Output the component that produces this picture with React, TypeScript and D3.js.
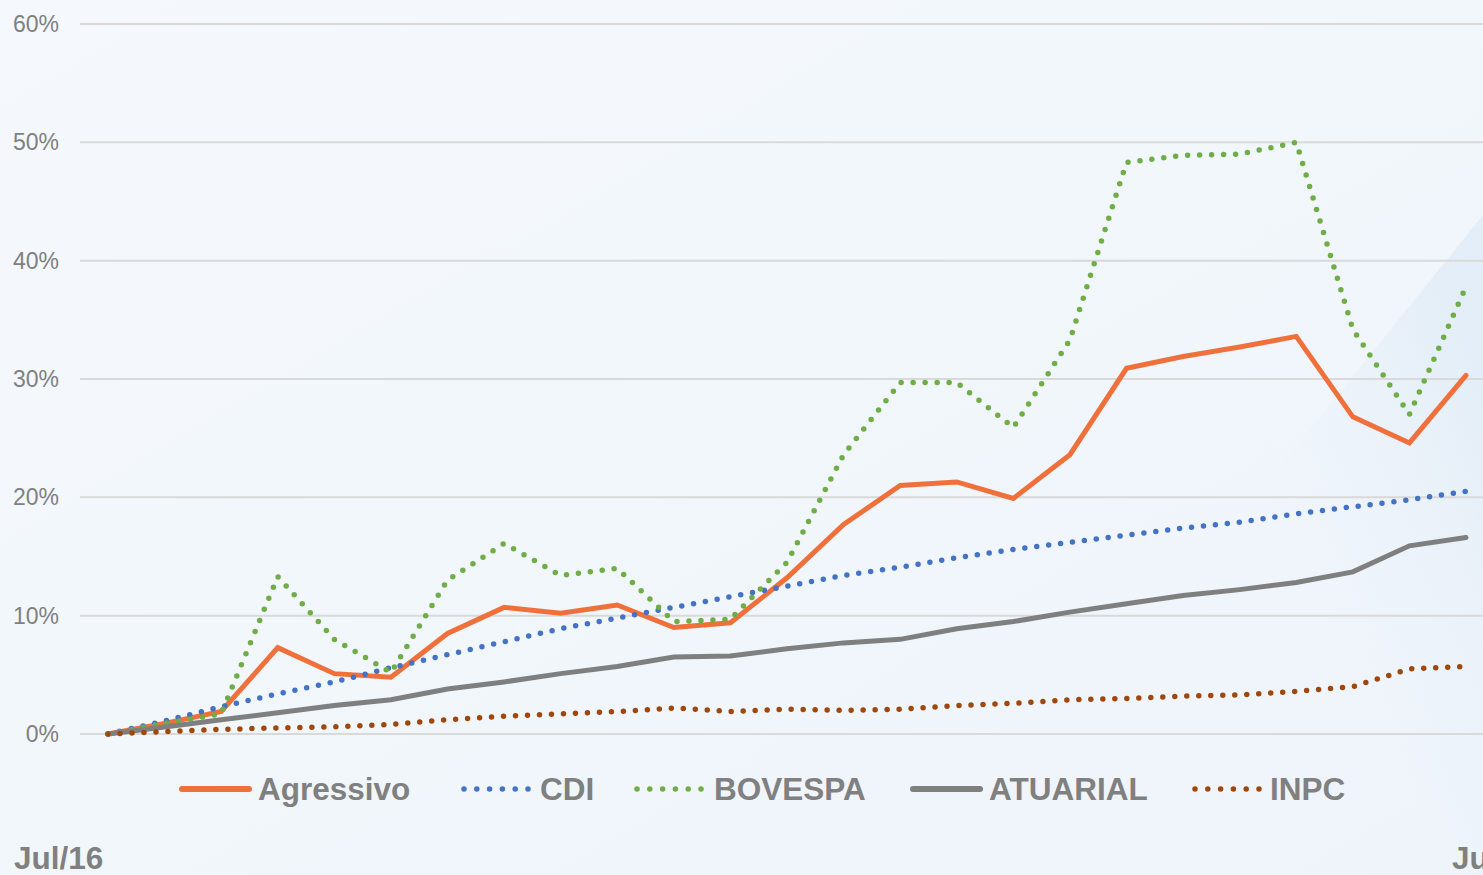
import React from "react";
import * as d3 from "d3";

const months = [
  "Jul/16","Ago/16","Set/16","Out/16","Nov/16","Dez/16","Jan/17","Fev/17","Mar/17","Abr/17","Mai/17","Jun/17",
  "Jul/17","Ago/17","Set/17","Out/17","Nov/17","Dez/17","Jan/18","Fev/18","Mar/18","Abr/18","Mai/18","Jun/18","Jul/18",
];

const agressivo = [0, 0.9, 1.9, 7.3, 5.1, 4.8, 8.5, 10.7, 10.2, 10.9, 9.0, 9.4, 13.2, 17.7, 21.0, 21.3, 19.9, 23.6, 30.9, 31.9, 32.7, 33.6, 26.8, 24.6, 30.3];
const cdi = [0, 1.1, 2.3, 3.4, 4.4, 5.6, 6.7, 7.8, 8.9, 9.8, 10.7, 11.6, 12.5, 13.4, 14.1, 14.9, 15.6, 16.2, 16.8, 17.4, 17.9, 18.6, 19.2, 19.8, 20.5];
const bovespa = [0, 0.9, 1.7, 13.3, 8.0, 5.2, 13.0, 16.1, 13.4, 14.0, 9.5, 9.7, 14.5, 23.6, 29.7, 29.7, 25.9, 33.3, 48.3, 48.9, 49.0, 50.0, 34.2, 27.0, 37.8];
const atuarial = [0, 0.6, 1.2, 1.8, 2.4, 2.9, 3.8, 4.4, 5.1, 5.7, 6.5, 6.6, 7.2, 7.7, 8.0, 8.9, 9.5, 10.3, 11.0, 11.7, 12.2, 12.8, 13.7, 15.9, 16.6];
const inpc = [0, 0.2, 0.4, 0.5, 0.6, 0.8, 1.2, 1.5, 1.7, 1.9, 2.2, 1.9, 2.1, 2.0, 2.1, 2.4, 2.6, 2.9, 3.0, 3.2, 3.3, 3.6, 4.0, 5.5, 5.7];

const yTicks = [0, 10, 20, 30, 40, 50, 60];
const xTickLabels = ["Jul/16", "Jul/18"];

const seriesNames = ["Agressivo", "CDI", "BOVESPA", "ATUARIAL", "INPC"];
const seriesValues = [agressivo, cdi, bovespa, atuarial, inpc];
const seriesColors = ["#F0703C", "#4472C4", "#70AD47", "#7F7F7F", "#9E480E"];
const seriesDotted = [false, true, true, false, true];

const W = 1483;
const H = 875;
const legendSymbolX = [182, 464, 637, 913, 1195];
const legendTextX = [258, 540, 714, 989, 1270];

export default function App() {
  const x = d3.scalePoint<number>().domain(d3.range(months.length)).range([108, 1466]);
  const y = d3.scaleLinear().domain([0, 60]).range([734, 24]);
  const line = d3
    .line<number>()
    .x((_, i) => x(i) as number)
    .y((d) => y(d));

  const font = "'Liberation Sans', Arial, sans-serif";
  const legendY = 789;

  return (
    <svg
      width={W}
      height={H}
      style={{ position: "absolute", left: 0, top: 0, display: "block" }}
    >
      <defs>
        <linearGradient id="bg" x1="0" y1="0" x2="1" y2="1">
          <stop offset="0" stopColor="#f5f9fd" />
          <stop offset="1" stopColor="#eef4fa" />
        </linearGradient>
        <linearGradient id="streak" x1="1" y1="0.2" x2="0.6" y2="0.45">
          <stop offset="0" stopColor="#d9e8f5" stopOpacity="0.85" />
          <stop offset="1" stopColor="#e6eff8" stopOpacity="0" />
        </linearGradient>
      </defs>
      <rect x={0} y={0} width={W} height={H} fill="url(#bg)" />
      <polygon points={`${W},215 ${W},${H} 950,${H}`} fill="url(#streak)" opacity={0.7} />

      {yTicks.map((t) => (
        <g key={t}>
          <line x1={80} x2={W} y1={y(t)} y2={y(t)} stroke="#d9d9d9" strokeWidth={2} />
          <text
            x={59}
            y={y(t)}
            dy="0.35em"
            textAnchor="end"
            fontFamily={font}
            fontSize={23}
            fill="#808080"
          >
            {t}%
          </text>
        </g>
      ))}

      {seriesValues.map((vals, si) => (
        <path
          key={seriesNames[si]}
          d={line(vals) || ""}
          fill="none"
          stroke={seriesColors[si]}
          strokeWidth={seriesDotted[si] ? 5.5 : 5}
          strokeLinecap="round"
          strokeLinejoin={seriesDotted[si] ? "round" : "miter"}
          strokeDasharray={seriesDotted[si] ? "0 12" : undefined}
        />
      ))}

      {seriesNames.map((name, si) => (
        <g key={name}>
          {seriesDotted[si] ? (
            <line
              x1={legendSymbolX[si]}
              x2={legendSymbolX[si] + 64.5}
              y1={legendY}
              y2={legendY}
              stroke={seriesColors[si]}
              strokeWidth={5.5}
              strokeLinecap="round"
              strokeDasharray="0 12.8"
            />
          ) : (
            <line
              x1={legendSymbolX[si]}
              x2={legendSymbolX[si] + 67}
              y1={legendY}
              y2={legendY}
              stroke={seriesColors[si]}
              strokeWidth={6}
              strokeLinecap="round"
            />
          )}
          <text
            x={legendTextX[si]}
            y={legendY}
            dy="0.36em"
            fontFamily={font}
            fontSize={31.5}
            fontWeight="bold"
            fill="#808080"
          >
            {name}
          </text>
        </g>
      ))}

      <text x={14} y={869} fontFamily={font} fontSize={31.5} fontWeight="bold" fill="#808080">
        {xTickLabels[0]}
      </text>
      <text x={1452} y={869} fontFamily={font} fontSize={31.5} fontWeight="bold" fill="#808080">
        {xTickLabels[1]}
      </text>
    </svg>
  );
}
